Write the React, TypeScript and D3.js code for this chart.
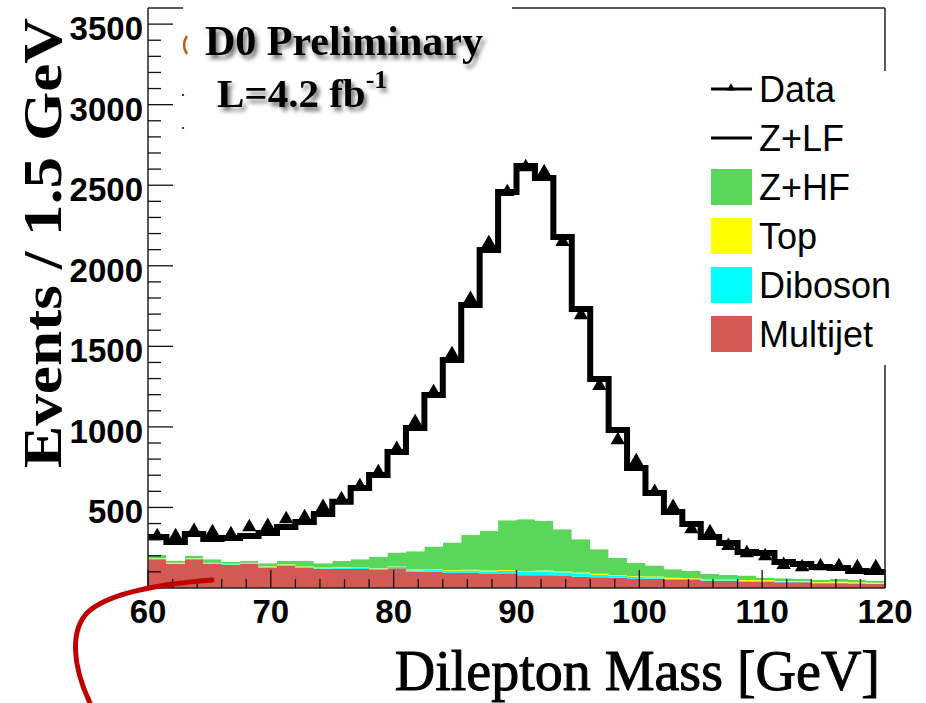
import React from "react";
import * as d3 from "d3";

// ---- data (events per 1.5 GeV bin, 60..120 GeV, 40 bins) ----
const binLow: number[] = d3.range(40).map((i) => 60 + 1.5 * i);
const multijet = [178,149,178,149,143,149,126,139,126,118,120,118,112,122,101,101,95,95,87,87,79,79,74,70,66,63,58,58,50,50,43,43,39,39,35,35,29,30,28,25];
const diboson = [3,3,3,4,4,4,4,5,5,5,6,6,7,8,9,10,12,14,16,19,22,24,24,21,17,13,10,8,7,6,5,5,4,4,3,3,3,3,2,2];
const topq = [4,4,3,4,3,4,4,4,3,4,4,4,4,4,5,5,5,5,5,5,5,5,5,5,5,5,5,6,6,5,5,5,6,6,5,5,5,6,5,5];
const zhf = [20,13,16,21,13,12,19,21,35,26,38,50,71,86,113,141,170,217,247,309,320,310,261,206,152,105,84,67,53,45,34,28,28,15,17,13,13,17,15,11];
const zlf = [111,117,135,126,147,154,188,210,241,307,367,443,507,624,765,941,1133,1426,1743,2038,2194,2127,1815,1430,1057,795,588,451,356,291,230,198,146,153,101,93,80,68,56,56];
const dataCounts = [316,316,348,341,329,372,379,422,434,497,546,627,714,857,1024,1210,1446,1788,2135,2452,2607,2576,2142,1688,1248,912,782,590,497,360,341,255,211,192,137,124,130,130,124,124];

const yTicks = [500, 1000, 1500, 2000, 2500, 3000, 3500];
const xTicks = [60, 70, 80, 90, 100, 110, 120];
const legendLabels = ["Data", "Z+LF", "Z+HF", "Top", "Diboson", "Multijet"];

const layerKeys = ["multijet", "diboson", "topq", "zhf", "zlf"];
const layerColors: Record<string, string> = {
  multijet: "#d35955",
  diboson: "#00ffff",
  topq: "#ffff00",
  zhf: "#5ad65a",
  zlf: "#ffffff",
};

export default function App() {
  const W = 926, H = 703;
  const x = d3.scaleLinear().domain([60, 120]).range([148, 885]);
  const y = d3.scaleLinear().domain([0, 3600]).range([588, 8]);
  const binW = 1.5;

  const rows = binLow.map((lo, i) => ({
    lo,
    multijet: multijet[i],
    diboson: diboson[i],
    topq: topq[i],
    zhf: zhf[i],
    zlf: zlf[i],
  }));
  const rowsExt = [...rows, { ...rows[rows.length - 1], lo: 120 }];
  const stack = d3.stack<any>().keys(layerKeys);
  const series = stack(rowsExt);

  const area = d3
    .area<any>()
    .curve(d3.curveStepAfter)
    .x((d) => x(d.data.lo))
    .y0((d) => y(d[0]))
    .y1((d) => y(d[1]));

  const totalLine = d3
    .line<any>()
    .curve(d3.curveStepAfter)
    .x((d) => x(d.data.lo))
    .y((d) => y(d[1]));

  const tri = d3.symbol().type(d3.symbolTriangle).size(90)();
  const triSmall = d3.symbol().type(d3.symbolTriangle).size(30)();

  const yMinor = d3.range(100, 3600, 100).filter((v) => v % 500 !== 0);
  const xMinor = d3.range(62, 120, 2).filter((v) => v % 10 !== 0);

  const legendY0 = 89;
  const legendDy = 49;
  const swatch: Record<string, string | null> = {
    Data: null,
    "Z+LF": null,
    "Z+HF": layerColors.zhf,
    Top: layerColors.topq,
    Diboson: layerColors.diboson,
    Multijet: layerColors.multijet,
  };

  return (
    <svg
      width={W}
      height={H}
      style={{ position: "absolute", left: 0, top: 0, background: "#fff" }}
    >
      <defs>
        <filter id="shadow" x="-10%" y="-30%" width="130%" height="180%">
          <feDropShadow dx="3" dy="4" stdDeviation="2" floodColor="#000" floodOpacity="0.55" />
        </filter>
      </defs>
      <rect x={0} y={0} width={W} height={H} fill="#fff" />

      {series.map((s) => (
        <path key={s.key} d={area(s as any) || ""} fill={layerColors[s.key]} stroke="none" />
      ))}

      <path
        d={totalLine(series[series.length - 1] as any) || ""}
        fill="none"
        stroke="#000"
        strokeWidth={6}
        strokeLinejoin="miter"
      />

      {dataCounts.map((v, i) => (
        <path
          key={i}
          d={tri || ""}
          transform={`translate(${x(binLow[i] + binW / 2)},${y(v) - 1})`}
          fill="#000"
        />
      ))}

      <g stroke="#222" strokeWidth={1.5} fill="none">
        <line x1={148} y1={8} x2={148} y2={588} />
        <line x1={148} y1={588} x2={885} y2={588} />
        <line x1={885} y1={8} x2={885} y2={588} />
        <line x1={148} y1={8} x2={885} y2={8} />
      </g>

      <g stroke="#111" strokeWidth={1.3}>
        {yTicks.map((t) => (
          <line key={t} x1={148} x2={173} y1={y(t)} y2={y(t)} />
        ))}
        {yMinor.map((t) => (
          <line key={t} x1={148} x2={161} y1={y(t)} y2={y(t)} />
        ))}
      </g>
      <g stroke="#111" strokeWidth={1.3}>
        {xTicks.map((t) => (
          <line key={t} x1={x(t)} x2={x(t)} y1={588} y2={570} />
        ))}
        {xMinor.map((t) => (
          <line key={t} x1={x(t)} x2={x(t)} y1={588} y2={579} />
        ))}
      </g>

      <g fontFamily="'Liberation Sans', Arial, sans-serif" fontWeight="bold" fontSize={33} fill="#000">
        {yTicks.map((t) => (
          <text key={t} x={143} y={y(t) + 16} textAnchor="end">
            {t}
          </text>
        ))}
        {xTicks.map((t) => (
          <text key={t} x={x(t)} y={623} textAnchor="middle">
            {t}
          </text>
        ))}
      </g>

      <text
        transform="translate(61,243) rotate(-90)"
        textAnchor="middle"
        fontFamily="'Liberation Serif', 'Times New Roman', serif"
        fontWeight="bold"
        fontSize={54}
        textLength={450}
        lengthAdjust="spacingAndGlyphs"
        fill="#000"
      >
        Events / 1.5 GeV
      </text>
      <text
        x={880}
        y={690}
        textAnchor="end"
        fontFamily="'Liberation Serif', 'Times New Roman', serif"
        fontSize={56}
        stroke="#000"
        strokeWidth={1}
        fill="#000"
      >
        Dilepton Mass [GeV]
      </text>

      <rect x={183} y={0} width={329} height={140} fill="#fff" />
      <path d="M187,36 Q181,45 187,54" stroke="#b0641e" strokeWidth={2.5} fill="none" />
      <rect x={182} y={94} width={2} height={2} fill="#8b1a1a" />
      <rect x={182} y={127} width={2} height={2} fill="#8b1a1a" />
      <g
        fontFamily="'Liberation Serif', 'Times New Roman', serif"
        fontWeight="bold"
        fill="#000"
        filter="url(#shadow)"
      >
        <text x={205} y={55} fontSize={42}>
          D0 Preliminary
        </text>
        <text x={217} y={107} fontSize={41}>
          L=4.2 fb
          <tspan fontSize={26} dy={-19}>
            -1
          </tspan>
        </text>
      </g>

      <rect x={700} y={71} width={226} height={294} fill="#fff" />
      <g fontFamily="'Liberation Sans', Arial, sans-serif" fontSize={36} fill="#000">
        {legendLabels.map((lab, i) => {
          const cy = legendY0 + i * legendDy;
          const col = swatch[lab];
          return (
            <g key={lab}>
              {col ? (
                <rect x={711} y={cy - 18} width={41} height={36} fill={col} />
              ) : (
                <line x1={711} x2={752} y1={cy} y2={cy} stroke="#000" strokeWidth={3} />
              )}
              {lab === "Data" && (
                <path d={triSmall || ""} transform={`translate(731,${cy - 1})`} fill="#000" />
              )}
              <text x={759} y={cy + 13}>
                {lab}
              </text>
            </g>
          );
        })}
      </g>

      <path
        d="M212,580 C160,584 110,592 88,612 C70,630 72,665 90,703"
        stroke="#c00000"
        strokeWidth={5}
        fill="none"
        strokeLinecap="round"
      />
    </svg>
  );
}
